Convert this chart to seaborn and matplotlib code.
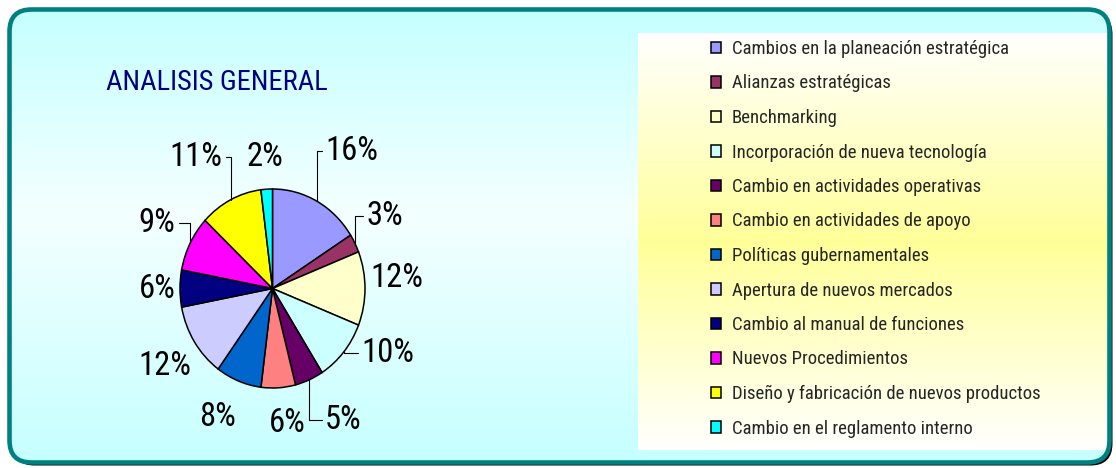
import numpy as np
import matplotlib
matplotlib.use("Agg")
import matplotlib.pyplot as plt
import seaborn as sns
from matplotlib import font_manager
from matplotlib.patches import FancyBboxPatch
from matplotlib.colors import LinearSegmentedColormap

# --- data ---
title = "ANALISIS GENERAL"
categories = [
    "Cambios en la planeación estratégica",
    "Alianzas estratégicas",
    "Benchmarking",
    "Incorporación de nueva tecnología",
    "Cambio en actividades operativas",
    "Cambio en actividades de apoyo",
    "Políticas gubernamentales",
    "Apertura de nuevos mercados",
    "Cambio al manual de funciones",
    "Nuevos Procedimientos",
    "Diseño y fabricación de nuevos productos",
    "Cambio en el reglamento interno",
]
percent = [16, 3, 12, 10, 5, 6, 8, 12, 6, 9, 11, 2]
slice_colors = ["#9999FF", "#993366", "#FFFFCC", "#CCFFFF", "#660066", "#FF8080",
                "#0066CC", "#CCCCFF", "#000080", "#FF00FF", "#FFFF00", "#00FFFF"]

# label placement: distance from centre (radii), angular nudge (deg), leader line
label_dist = [1.63, 1.42, 1.35, 1.41, 1.53, 1.36, 1.42, 1.40, 1.25, 1.41, 1.56, 1.32]
label_shift = [-3, 4, 4.5, 12, 6.6, 3, -3, 1.4, 0, -0.8, 5, 0]
leader = [True, True, False, True, True, False, False, False, False, True, True, False]

W, H = 1116, 468
sns.set_theme(style="white")

# pick a narrow sans if one is installed
installed = {f.name for f in font_manager.fontManager.ttflist}
narrow = next((n for n in ["Liberation Sans Narrow", "Arial Narrow", "Roboto Condensed",
                           "Open Sans Condensed", "DejaVu Sans"] if n in installed), "DejaVu Sans")
plt.rcParams["font.family"] = [narrow, "DejaVu Sans"]
plt.rcParams["font.stretch"] = "condensed"
palette = sns.color_palette(slice_colors)

fig = plt.figure(figsize=(W / 100, H / 100), dpi=100)

# background panel in pixel coordinates
bg = fig.add_axes([0, 0, 1, 1])
frame_kw = dict(boxstyle="round,pad=0,rounding_size=22")
bg.add_patch(FancyBboxPatch((12.5, 12.5), 1100, 453, fc="black", ec="none", zorder=-2, **frame_kw))
panel = FancyBboxPatch((9.5, 9.5), 1100, 453, fc="none", ec="none", zorder=-1, **frame_kw)
bg.add_patch(panel)

grad = np.linspace(0, 1, 256).reshape(-1, 1)
cyan = LinearSegmentedColormap.from_list("bgc", [(0, "#c6ffff"), (0.45, "#f4ffff"), (1, "#c6ffff")])
im = bg.imshow(grad, cmap=cyan, aspect="auto", extent=(9.5, 1109.5, 462.5, 9.5),
               interpolation="bicubic", zorder=1)
im.set_clip_path(panel)

yellow = LinearSegmentedColormap.from_list("lgc", [(0, "#ffffff"), (0.5, "#ffff99"), (1, "#ffffff")])
im2 = bg.imshow(grad, cmap=yellow, aspect="auto", extent=(638, 1109.5, 450, 33),
                interpolation="bicubic", zorder=2)
im2.set_clip_path(panel)

bg.add_patch(FancyBboxPatch((9.5, 9.5), 1100, 453, fc="none", ec="#008080", lw=3.3,
                            zorder=5, **frame_kw))
bg.set_xlim(0, W)
bg.set_ylim(H, 0)
bg.axis("off")

# pie axes: centre (272.5, 288.5) px, radius 92.5 px across, 99.5 px down
cx, cy = 272.5, 288.5
ux, uy = 92.5, 99.5
ax = fig.add_axes([(cx - 2.5 * ux) / W, (H - cy - 1.8 * uy) / H, 5 * ux / W, 3.6 * uy / H])
wedges, _ = ax.pie(percent, colors=palette, startangle=90, counterclock=False,
                   wedgeprops=dict(edgecolor="black", linewidth=1.1))
ax.set_aspect("auto")
ax.set_xlim(-2.5, 2.5)
ax.set_ylim(-1.8, 1.8)
ax.axis("off")

for w, p, d, s, ld in zip(wedges, percent, label_dist, label_shift, leader):
    mid = np.deg2rad((w.theta1 + w.theta2) / 2)
    edge = (np.cos(mid), np.sin(mid))
    a = mid + np.deg2rad(s)
    pos = (d * np.cos(a), d * np.sin(a))
    kw = {}
    if ld:
        kw["arrowprops"] = dict(arrowstyle="-", color="black", lw=0.8, shrinkA=0, shrinkB=0,
                                connectionstyle="angle,angleA=0,angleB=90,rad=0")
    ax.annotate(f"{p}%", xy=edge, xytext=pos, ha="center", va="center",
                fontsize=23.5, color="black", **kw)

fig.text(106 / W, 1 - 90 / H, title, color="#000080", fontsize=20.5, ha="left", va="baseline")

fig.legend(wedges, categories, loc="upper left", bbox_to_anchor=(711 / W, 1 - 40 / H),
           frameon=False, fontsize=13.5, handlelength=0.55, handleheight=0.55,
           handletextpad=0.55, labelspacing=0.88, borderpad=0, borderaxespad=0)

fig.savefig("out.png", dpi=100)
